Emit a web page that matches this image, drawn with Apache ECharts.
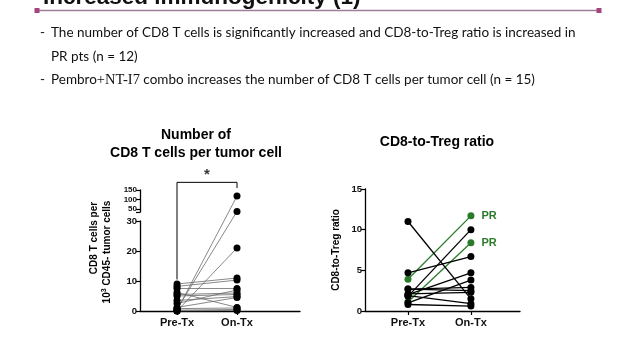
<!DOCTYPE html>
<html><head><meta charset="utf-8">
<script src="https://cdn.jsdelivr.net/npm/echarts@6/dist/echarts.min.js"></script>
<style>html,body{margin:0;padding:0;background:#fff}#c{width:640px;height:360px}</style>
</head><body><div id="c"></div>
<script>
// ---------- data ----------
const categories = ['Pre-Tx', 'On-Tx'];
// Left: CD8 T cells per 10^3 CD45- tumor cells (n = 15 pairs)
const cd8Pre = [0.2, 0.6, 0.0, 9.0, 8.2, 7.5, 6.2, 5.5, 5.0, 3.5, 2.5, 1.2, 0.8, 0.3, 0.0];
const cd8On  = [118, 38, 21, 11, 10.3, 7.5, 1.2, 6.0, 5.5, 4.8, 7.0, 4.5, 1.0, 0.5, 0.2];
const cd8LowerTicks = [0, 10, 20, 30];
const cd8UpperTicks = [50, 100, 150];
const cd8Break = [30, 35];        // axis break (lower max, upper min)
const cd8UpperMax = 150;
const sigBracket = [10.5, 190, 160]; // left leg end, top, right leg end (axis values)
const sigText = '*';
// Right: CD8-to-Treg ratio (n = 12 pairs)
const ratioPre = [3.9, 1.1, 11.0, 4.7, 1.8, 2.7, 2.7, 2.0, 1.0, 2.1, 1.9, 0.8];
const ratioOn  = [11.7, 8.4, 1.5, 6.7, 10.0, 2.9, 2.5, 4.7, 3.8, 2.3, 0.9, 0.6];
const ratioGroup = ['PR', 'PR', '', '', '', '', '', '', '', '', '', ''];
const ratioTicks = [0, 5, 10, 15];

// ---------- broken-axis scale (lower 0-30 linear, gap, upper 35-150 compressed) ----------
const GAP_UNITS = 3, UPPER_UNITS = 7.333;
function brk(v) {
  const lo = cd8Break[0], up = cd8Break[1];
  if (v <= lo) return v;
  if (v < up) return lo + (v - lo) / (up - lo) * GAP_UNITS;
  return lo + GAP_UNITS + (v - up) / (cd8UpperMax - up) * UPPER_UNITS;
}

const FONT = 'Liberation Sans';
const GREEN = '#2a7a2a';
const lblStyle = { color: '#111', fontFamily: FONT, fontWeight: 'bold' };

const chart = echarts.init(document.getElementById('c'), null, { renderer: 'canvas' });

const series = [];
// left connecting lines
cd8Pre.forEach((p, i) => {
  series.push({
    type: 'line', xAxisIndex: 0, yAxisIndex: 0, symbol: 'none', silent: true, z: 2,
    lineStyle: { color: '#6a6a6a', width: 0.8 },
    data: [[0, brk(p)], [1, brk(cd8On[i])]]
  });
});
// left dots
series.push({
  type: 'scatter', xAxisIndex: 0, yAxisIndex: 0, symbolSize: 7, z: 4, clip: false,
  itemStyle: { color: '#000', opacity: 1 },
  data: cd8Pre.map(v => [0, brk(v)]).concat(cd8On.map(v => [1, brk(v)]))
});
// significance bracket
series.push({
  type: 'line', xAxisIndex: 0, yAxisIndex: 0, symbol: 'none', clip: false, z: 3,
  lineStyle: { color: '#000', width: 1 },
  data: [[0, brk(sigBracket[0])], [0, brk(sigBracket[1])], [1, brk(sigBracket[1])], [1, brk(sigBracket[2])]]
});
series.push({
  type: 'scatter', xAxisIndex: 0, yAxisIndex: 0, symbolSize: 0, clip: false,
  data: [[0.5, brk(sigBracket[1])]],
  label: { show: true, position: 'top', distance: 0, formatter: sigText, fontSize: 15, fontWeight: 'bold', color: '#000', fontFamily: FONT }
});
// right connecting lines
ratioPre.forEach((p, i) => {
  series.push({
    type: 'line', xAxisIndex: 3, yAxisIndex: 3, symbol: 'none', silent: true, z: 2,
    lineStyle: { color: ratioGroup[i] ? GREEN : '#000', width: 1.3 },
    data: [[0, p], [1, ratioOn[i]]]
  });
});
// right dots
const rDots = [];
ratioPre.forEach((p, i) => rDots.push({ value: [0, p], itemStyle: { color: ratioGroup[i] ? GREEN : '#000', opacity: 1 } }));
ratioOn.forEach((p, i) => rDots.push({
  value: [1, p], itemStyle: { color: ratioGroup[i] ? GREEN : '#000', opacity: 1 },
  label: ratioGroup[i] ? { show: true, position: 'right', distance: 7, formatter: ratioGroup[i], color: GREEN, fontSize: 11, fontWeight: 'bold', fontFamily: FONT } : { show: false }
}));
series.push({ type: 'scatter', xAxisIndex: 3, yAxisIndex: 3, symbolSize: 7, z: 4, clip: false, data: rDots });

const axisLineStyle = { show: true, onZero: false, lineStyle: { color: '#000', width: 1.3 } };
const catX = (idx, min, max) => ({
  gridIndex: idx, type: 'value', min: min, max: max,
  axisLine: axisLineStyle, splitLine: { show: false },
  axisTick: { show: true, customValues: [0, 1], length: 4, lineStyle: { color: '#000', width: 1.2 } },
  axisLabel: Object.assign({ customValues: [0, 1], formatter: v => categories[Math.round(v)], fontSize: 11, margin: 6 }, lblStyle)
});

const option = {
  animation: false,
  grid: [
    { left: 140, top: 190, width: 160, height: 121 },
    { left: 140, top: 221, width: 160, height: 90 },
    { left: 140, top: 190, width: 160, height: 22 },
    { left: 365, top: 189, width: 155, height: 122 }
  ],
  xAxis: [
    catX(0, -0.617, 2.05),
    { gridIndex: 1, type: 'value', min: 0, max: 1, show: false },
    { gridIndex: 2, type: 'value', min: 0, max: 1, show: false },
    catX(3, -0.683, 1.78)
  ],
  yAxis: [
    { gridIndex: 0, type: 'value', min: 0, max: brk(cd8UpperMax), show: false },
    { gridIndex: 1, type: 'value', min: cd8LowerTicks[0], max: cd8LowerTicks[cd8LowerTicks.length - 1], interval: 10,
      axisLine: axisLineStyle, splitLine: { show: false },
      axisTick: { show: true, length: 4, lineStyle: { color: '#000', width: 1.2 } },
      axisLabel: Object.assign({ fontSize: 9.5, margin: 3 }, lblStyle) },
    { gridIndex: 2, type: 'value', min: cd8Break[1], max: cd8UpperMax,
      axisLine: axisLineStyle, splitLine: { show: false },
      axisTick: { show: true, customValues: [cd8Break[1]].concat(cd8UpperTicks), length: 4, lineStyle: { color: '#000', width: 1.2 } },
      axisLabel: Object.assign({ customValues: cd8UpperTicks, fontSize: 8, margin: 3 }, lblStyle) },
    { gridIndex: 3, type: 'value', min: ratioTicks[0], max: ratioTicks[ratioTicks.length - 1], interval: 5,
      axisLine: axisLineStyle, splitLine: { show: false },
      axisTick: { show: true, length: 4, lineStyle: { color: '#000', width: 1.2 } },
      axisLabel: Object.assign({ fontSize: 9.5, margin: 3 }, lblStyle) }
  ],
  graphic: [
    // header
    { type: 'text', x: 43, y: 9, style: { text: 'Increased immunogenicity (1)', font: 'bold 22.5px "Liberation Sans"', fill: '#111', verticalAlign: 'bottom' } },
    { type: 'line', shape: { x1: 37, y1: 10.5, x2: 599, y2: 10.5 }, style: { stroke: '#9a7f96', lineWidth: 1.5 } },
    { type: 'rect', shape: { x: 34.5, y: 8, width: 5, height: 5 }, style: { fill: '#a3447f' } },
    { type: 'rect', shape: { x: 596.5, y: 8, width: 5, height: 5 }, style: { fill: '#a3447f' } },
    // bullets
    { type: 'text', x: 40, y: 33, style: { text: '-', font: '13.5px Lato', fill: '#111', verticalAlign: 'middle' } },
    { type: 'text', x: 51, y: 33, style: { text: 'The number of CD8 T cells is significantly increased and CD8-to-Treg ratio is increased in', font: '13.5px Lato', fill: '#111', verticalAlign: 'middle' } },
    { type: 'text', x: 51, y: 57, style: { text: 'PR pts (n = 12)', font: '13.5px Lato', fill: '#111', verticalAlign: 'middle' } },
    { type: 'text', x: 40, y: 80, style: { text: '-', font: '13.5px Lato', fill: '#111', verticalAlign: 'middle' } },
    { type: 'text', x: 51, y: 80, style: {
      text: 'Pembro{s|+NT-I7} combo increases the number of CD8 T cells per tumor cell (n = 15)',
      font: '13.5px Lato', fill: '#111', verticalAlign: 'middle',
      rich: { s: { fontFamily: 'Liberation Serif', fontSize: 14.5, fill: '#111' } } } },
    // chart titles
    { type: 'text', x: 196, y: 135, style: { text: 'Number of', font: 'bold 14px "Liberation Sans"', fill: '#000', align: 'center', verticalAlign: 'middle' } },
    { type: 'text', x: 196, y: 153, style: { text: 'CD8 T cells per tumor cell', font: 'bold 14px "Liberation Sans"', fill: '#000', align: 'center', verticalAlign: 'middle' } },
    { type: 'text', x: 437, y: 142, style: { text: 'CD8-to-Treg ratio', font: 'bold 14px "Liberation Sans"', fill: '#000', align: 'center', verticalAlign: 'middle' } },
    // y-axis names
    { type: 'text', x: 94, y: 238, rotation: Math.PI / 2, style: { text: 'CD8 T cells per', font: 'bold 10px "Liberation Sans"', fill: '#000', align: 'center', verticalAlign: 'middle' } },
    { type: 'text', x: 107, y: 252, rotation: Math.PI / 2, style: {
      text: '10{sup|3} CD45- tumor cells', font: 'bold 10px "Liberation Sans"', fill: '#000', align: 'center', verticalAlign: 'middle',
      rich: { sup: { fontSize: 7, fontWeight: 'bold', fontFamily: FONT, verticalAlign: 'top', padding: [0, 0, 5, 0] } } } },
    { type: 'text', x: 336, y: 250, rotation: Math.PI / 2, style: { text: 'CD8-to-Treg ratio', font: 'bold 10px "Liberation Sans"', fill: '#000', align: 'center', verticalAlign: 'middle' } }
  ],
  series: series
};
chart.setOption(option);
</script>
</body></html>
